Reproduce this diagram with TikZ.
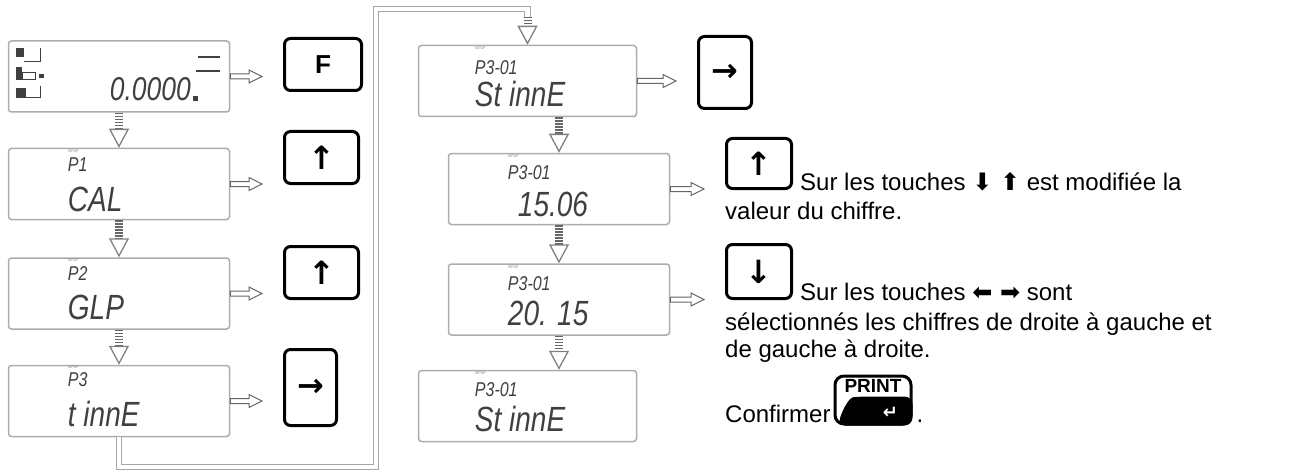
\documentclass[tikz,border=0pt]{standalone}
\usepackage{fontspec}
\setmainfont{Liberation Sans}
\newfontfamily\lcdfont[FakeStretch=0.8]{Liberation Sans}
\newfontfamily\symfont{DejaVu Sans}
\usetikzlibrary{arrows.meta, positioning, calc}
\tikzstyle{lcd} = [draw=gray!65, line width=1.5pt, rounded corners=3pt, minimum width=221pt, minimum height=71pt, inner sep=0pt]
\tikzstyle{setup} = [font=\lcdfont\fontsize{4}{4}\selectfont, text=gray, inner sep=0pt, anchor=base west]
\tikzstyle{lcdpetit} = [font=\lcdfont\itshape\fontsize{20}{20}\selectfont, text=black!75, inner sep=0pt, anchor=base west]
\tikzstyle{lcdgrand} = [font=\lcdfont\itshape\fontsize{35}{35}\selectfont, text=black!75, inner sep=0pt, anchor=base west]
\tikzstyle{touche} = [draw=black, line width=3pt, rounded corners=6pt, inner sep=0pt, font=\symfont\bfseries\fontsize{32}{32}\selectfont]
\tikzstyle{texte} = [inner sep=0pt, anchor=base west, font=\fontsize{24}{27}\selectfont]
\tikzstyle{fleche bas} = [draw=gray!80!black, line width=8pt, dash pattern=on 1.5pt off 1.5pt, -{Triangle[open, width=20pt, length=19pt, line width=1.3pt, color=gray]}]
\tikzstyle{fleche droite} = [draw=gray!80!black, line width=1pt, fill=white, to path={let \p1=(\tikztostart), \p2=(\tikztotarget) in (\x1,{\y1+2.5pt}) -- ({\x2-34pt},{\y1+2.5pt}) -- ({\x2-34pt},{\y1+6.5pt}) -- ({\x2-21pt},\y1) -- ({\x2-34pt},{\y1-6.5pt}) -- ({\x2-34pt},{\y1-2.5pt}) -- (\x1,{\y1-2.5pt}) -- cycle}]
\tikzstyle{bande} = [draw=gray!70, line width=1.2pt, double=white, double distance=4.5pt]

\begin{document}
\begin{tikzpicture}[x=1pt, y=-1pt]
        \useasboundingbox (0,0) rectangle (1290,476);

        % Première colonne : afficheurs
        \node (d0) [lcd] at (119,76.5) {};
        \node (d1) [lcd] at (119,184) {};
        \node (d2) [lcd] at (119,293.5) {};
        \node (d3) [lcd] at (119,401) {};

        % Contenu de l'afficheur de départ
        \node (d0v) [lcdgrand, font=\lcdfont\itshape\fontsize{33}{33}\selectfont] at ([shift={(102,60)}]d0.north west) {0.0000};
        \fill[black!75] (193,96) rectangle (198,101);
        \draw[black!75, line width=1.5pt] (198,57) -- (220,57);
        \draw[black!75, line width=2.5pt] (196,71) -- (220,71);
        \fill[black!75] (16,48) rectangle (24,57);
        \draw[black!75, line width=1pt] (24,62) -- (40,62) -- (40,48);
        \fill[black!75] (16,67) rectangle (22,80);
        \draw[black!75, line width=1pt] (22,73) rectangle (35,80);
        \fill[black!75] (39,74) rectangle (44,78);
        \fill[black!75] (16,88) rectangle (26,98);
        \draw[black!75, line width=1pt] (26,98) -- (40,98) -- (40,86);

        \node (d1s) [setup] at ([shift={(60,5)}]d1.north west) {SETUP};
        \node (d1p) [lcdpetit] at ([shift={(60,24)}]d1.north west) {P1};
        \node (d1t) [lcdgrand] at ([shift={(60,64)}]d1.north west) {CAL};
        \node (d2s) [setup] at ([shift={(60,4)}]d2.north west) {SETUP};
        \node (d2p) [lcdpetit] at ([shift={(60,23)}]d2.north west) {P2};
        \node (d2t) [lcdgrand] at ([shift={(60,62)}]d2.north west) {GLP};
        \node (d3s) [setup] at ([shift={(60,4)}]d3.north west) {SETUP};
        \node (d3p) [lcdpetit] at ([shift={(60,22)}]d3.north west) {P3};
        \node (d3t) [lcdgrand] at ([shift={(60,62)}]d3.north west) {t innE};

        % Touches de la première colonne
        \node (kF) [touche, minimum width=77pt, minimum height=52pt, font=\bfseries\fontsize{26}{26}\selectfont] at (323,64.5) {F};
        \node (kU1) [touche, minimum width=74pt, minimum height=52pt] at (321.5,157.5) {↑};
        \node (kU2) [touche, minimum width=74pt, minimum height=52pt] at (321.5,272.5) {↑};
        \node (kR1) [touche, minimum width=52pt, minimum height=76pt] at (310.5,387.5) {→};

        % Connexions de la première colonne
        \draw[fleche bas] (d0.south) -- (d1.north);
        \draw[fleche bas] (d1.south) -- (d2.north);
        \draw[fleche bas] (d2.south) -- (d3.north);
        \draw[fleche droite] (d0.east) to (kF.west);
        \draw[fleche droite] (d1.east) to (kU1.west);
        \draw[fleche droite] (d2.east) to (kU2.west);
        \draw[fleche droite] (d3.east) to (kR1.west);

        % Deuxième colonne : afficheurs
        \node (d4) [lcd, minimum width=218pt] at (527.5,81) {};
        \node (d5) [lcd] at (559,189) {};
        \node (d6) [lcd] at (559,299.5) {};
        \node (d7) [lcd, minimum width=218pt] at (527.5,406) {};

        \node (d4s) [setup] at ([shift={(57,5)}]d4.north west) {SETUP};
        \node (d4p) [lcdpetit] at ([shift={(57,30)}]d4.north west) {P3-01};
        \node (d4t) [lcdgrand] at ([shift={(57,62)}]d4.north west) {St innE};
        \node (d5s) [setup] at ([shift={(60,5)}]d5.north west) {SETUP};
        \node (d5p) [lcdpetit] at ([shift={(60,27)}]d5.north west) {P3-01};
        \node (d5t) [lcdgrand] at ([shift={(70,64)}]d5.north west) {15.06};
        \node (d6s) [setup] at ([shift={(60,5)}]d6.north west) {SETUP};
        \node (d6p) [lcdpetit] at ([shift={(60,27)}]d6.north west) {P3-01};
        \node (d6t) [lcdgrand] at ([shift={(60,62)}]d6.north west) {20. 15};
        \node (d7s) [setup] at ([shift={(57,5)}]d7.north west) {SETUP};
        \node (d7p) [lcdpetit] at ([shift={(57,27)}]d7.north west) {P3-01};
        \node (d7t) [lcdgrand] at ([shift={(57,62)}]d7.north west) {St innE};

        % Passage d'une colonne à l'autre
        \coordinate (c1) at (376,467);
        \coordinate (c2) at (376,9);
        \coordinate (c3) at (527.5,17);
        \draw[bande] (d3.south) |- (c1) -- (c2) -| (c3);
        \draw[fleche bas] (c3) -- (d4.north);

        % Touches de la deuxième colonne
        \node (kR2) [touche, minimum width=53pt, minimum height=72pt] at (725,72.5) {→};
        \node (kU3) [touche, minimum width=65pt, minimum height=50pt] at (759,163.5) {↑};
        \node (kD) [touche, minimum width=65pt, minimum height=54pt] at (759,271.5) {↓};
        \node (kP) [touche, minimum width=76pt, minimum height=48pt, rounded corners=9pt] at (873,400) {};
        \fill[black, rounded corners=8pt] ($(kP.south west)+(4,0)$) .. controls ($(kP.south west)+(10,-18)$) and ($(kP.south west)+(16,-28)$) .. ($(kP.south west)+(28,-29)$) -- ($(kP.south east)+(0,-29)$) -- (kP.south east) -- cycle;
        \node (kPt) [inner sep=0pt, anchor=north, font=\bfseries\fontsize{19}{19}\selectfont] at ([yshift=-5pt]kP.north) {PRINT};
        \node (kPf) [inner sep=0pt, text=white, font=\symfont\bfseries\fontsize{18}{18}\selectfont] at ([shift={(-22,-13)}]kP.south east) {↵};

        % Connexions de la deuxième colonne
        \draw[fleche bas] (d4.south -| d5.north) -- (d5.north);
        \draw[fleche bas] (d5.south) -- (d6.north);
        \draw[fleche bas] (d6.south) -- (d6.south |- d7.north);
        \draw[fleche droite] (d4.east) to (kR2.west);
        \draw[fleche droite] (d5.east) to (kU3.west);
        \draw[fleche droite] (d6.east) to (kD.west);

        % Textes explicatifs
        \node (t1) [texte] at ([xshift=7pt]kU3.south east) {Sur les touches {\symfont ⬇ ⬆} est modifiée la};
        \node (t2) [texte] at (725,219) {valeur du chiffre.};
        \node (t3) [texte] at ([xshift=7pt]kD.south east) {Sur les touches {\symfont ⬅ ➡} sont};
        \node (t4) [texte] at (725,330) {sélectionnés les chiffres de droite à gauche et};
        \node (t5) [texte] at (725,357) {de gauche à droite.};
        \node (t6) [texte] at (725,422) {Confirmer};
        \node (t7) [texte] at ([xshift=4pt]kP.east |- t6.base) {.};

    \end{tikzpicture}
\end{document}
